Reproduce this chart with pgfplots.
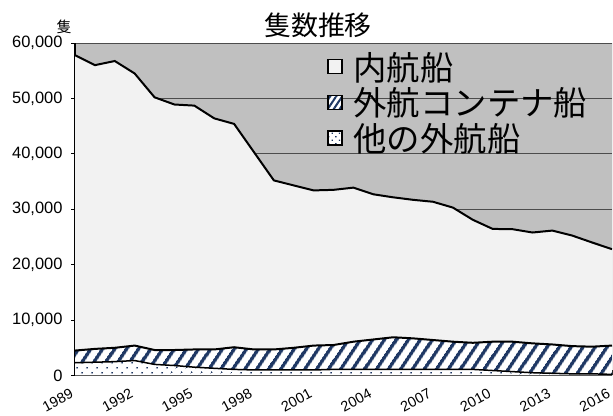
\documentclass[border=0pt]{standalone}
\usepackage{fontspec}
\setmainfont{Liberation Sans}
\newfontfamily\cjk{Noto Sans CJK JP}
\usepackage{pgfplots}
\usepackage{pgfplotstable}
\pgfplotsset{compat=1.18}
\usepgfplotslibrary{fillbetween}
\usetikzlibrary{patterns.meta}
\definecolor{bggray}{HTML}{C0C0C0}
\definecolor{domfill}{HTML}{F2F2F2}
\definecolor{navy}{HTML}{1F3864}

\pgfplotstableread{
year other foreign total
1989 2300 4500 57800
1990 2400 4800 56000
1991 2500 5000 56750
1992 2700 5400 54500
1993 2000 4600 50200
1994 1800 4600 48900
1995 1500 4700 48700
1996 1300 4700 46400
1997 1100 5100 45400
1998 1000 4700 40300
1999 1000 4700 35200
2000 1000 5000 34300
2001 1000 5400 33400
2002 1100 5500 33500
2003 1100 6100 33900
2004 1100 6500 32700
2005 1100 6900 32150
2006 1100 6700 31700
2007 1100 6400 31350
2008 1100 6100 30300
2009 1100 5900 28100
2010 900 6100 26450
2011 700 6100 26400
2012 500 5800 25800
2013 400 5600 26150
2014 300 5300 25250
2015 300 5200 24000
2016 200 5400 22800
}\data

\begin{document}
\begin{tikzpicture}
\begin{axis}[
  at={(75bp,40.5bp)}, anchor=south west,
  width=537bp, height=332.5bp, scale only axis,
  xmin=1989, xmax=2016, ymin=0, ymax=60000,
  set layers,
  axis background/.style={fill=bggray},
  axis x line*=bottom, axis y line*=left,
  axis line style={-, black, line width=1.4pt, /pgfplots/on layer=axis foreground},
  ytick={0,10000,...,60000},
  ymajorgrids,
  grid style={black!70, line width=0.7pt},
  scaled y ticks=false,
  /pgf/number format/assume math mode=true,
  y tick label style={/pgf/number format/1000 sep={,}},
  x tick label style={/pgf/number format/1000 sep={}},
  tick align=inside,
  major tick length=5bp, minor tick length=5bp,
  tick style={black, line width=0.8pt, /pgfplots/on layer=axis foreground},
  ytick style={xshift=-4bp},
  xtick={1989,1992,...,2016},
  minor xtick={1989,...,2016},
  xticklabel style={xshift=-4bp, yshift=-8bp, rotate=28, anchor=north east, font=\fontsize{14.5}{17}\selectfont},
  yticklabel style={font=\fontsize{16.5}{19}\selectfont, xshift=-9bp},
  legend image code/.code={\draw[#1, draw=black, line width=1.4pt] (0bp,-7bp) rectangle (14bp,7bp);},
  legend style={at={(0.469,0.978)}, anchor=north west, draw=none, fill=none, inner sep=0pt,
    font=\cjk\fontsize{33.5}{36}\selectfont, row sep=3bp, column sep=0bp,
    nodes={inner sep=1.5bp}},
  legend cell align=left,
]
\addplot[draw=none, name path=zero, forget plot] coordinates {(1989,0) (2016,0)};
\addplot[draw=none, name path=oth, forget plot] table[x=year,y=other]{\data};
\addplot[draw=none, name path=for, forget plot] table[x=year,y=foreign]{\data};
\addplot[draw=none, name path=tot, forget plot] table[x=year,y=total]{\data};
\addplot[fill=white, draw=none, forget plot] fill between[of=zero and oth];
\addplot[pattern={Dots[distance=6.8bp, radius=1.1bp, angle=45]}, pattern color=navy, draw=none, forget plot] fill between[of=zero and oth];
\addplot[fill=white, draw=none, forget plot] fill between[of=oth and for];
\addplot[pattern={Lines[angle=56, distance=9.5bp, line width=3.6bp]}, pattern color=navy, draw=none, forget plot] fill between[of=oth and for];
\addplot[fill=domfill, draw=none, forget plot] fill between[of=for and tot];
\addplot[black, line width=1.5pt, forget plot] table[x=year,y=other]{\data};
\addplot[black, line width=2pt, forget plot] table[x=year,y=foreign]{\data};
\addplot[black, line width=2pt, forget plot] table[x=year,y=total]{\data};
\draw[gray, line width=0.8pt] (rel axis cs:1,0) -- (rel axis cs:1,1);
\addlegendimage{fill=domfill}
\addlegendentry{\hspace{9bp}内航船}
\addlegendimage{fill=white, postaction={pattern={Lines[angle=56, distance=5bp, line width=2bp]}, pattern color=navy}}
\addlegendentry{\hspace{9bp}外航コンテナ船}
\addlegendimage{fill=white, postaction={pattern={Dots[distance=5bp, radius=0.9bp, angle=45]}, pattern color=navy}}
\addlegendentry{\hspace{9bp}他の外航船}
\end{axis}
\node[font=\cjk\fontsize{15}{18}\selectfont] at (64bp,389bp) {隻};
\node[font=\cjk\fontsize{27}{30}\selectfont] at (318bp,391bp) {隻数推移};
\pgfresetboundingbox
\path (0,0) rectangle (613bp,416bp);
\end{tikzpicture}
\end{document}
